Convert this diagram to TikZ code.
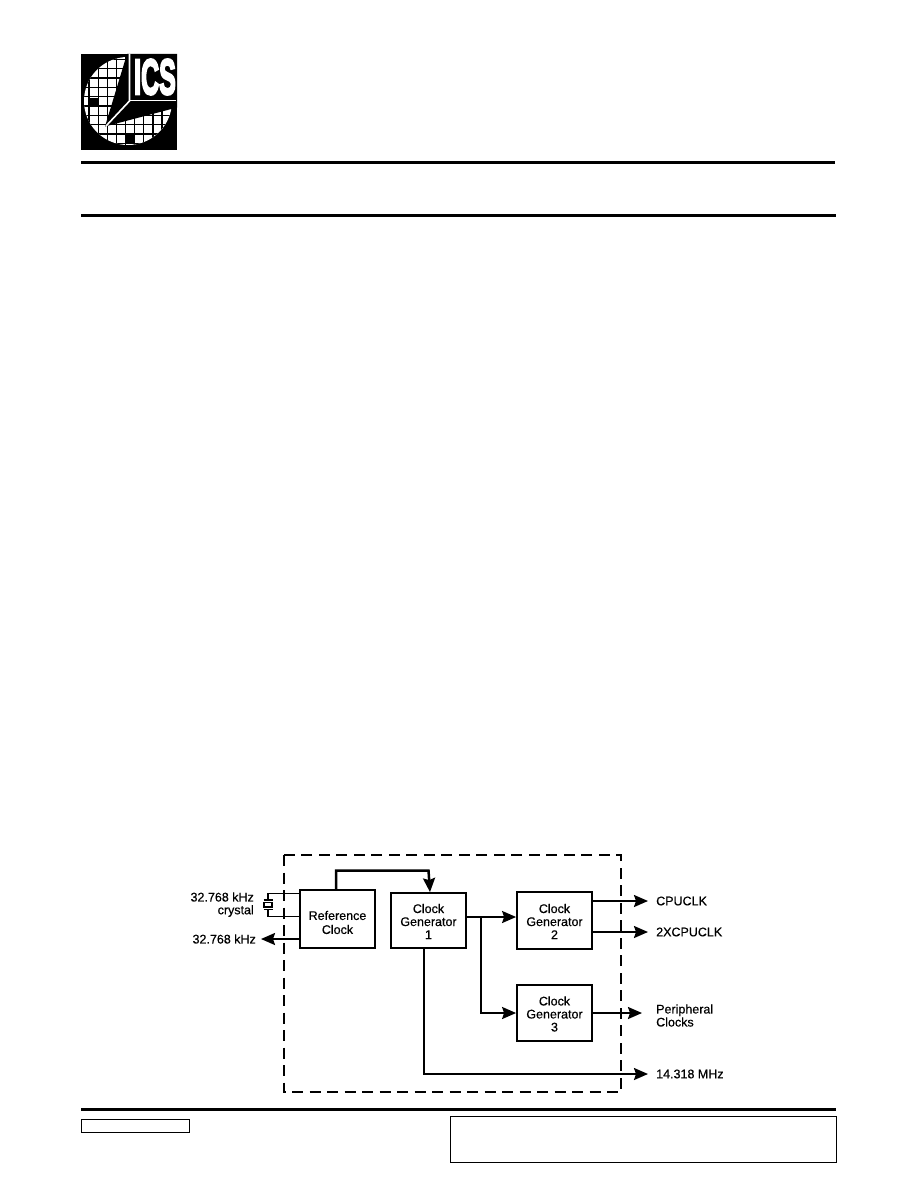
\documentclass[tikz,border=0pt]{standalone}
\usepackage{fontspec}
\setmainfont[RawFeature={embolden=0.5}]{Liberation Sans}
\newfontfamily\logofont[RawFeature={embolden=5}]{Liberation Sans Bold}
\usetikzlibrary{calc,arrows.meta,positioning}

\tikzset{
	clockbox/.style={draw, line width=1.8pt, minimum width=75pt, align=center, inner sep=0pt, font=\fontsize{12.5}{13}\selectfont},
	sig/.style={line width=2pt, -{Stealth[length=14pt,width=12pt,inset=2pt]}},
	wire/.style={line width=1.6pt},
	pinlabel/.style={inner sep=0pt, align=left, font=\fontsize{12.5}{13}\selectfont},
}

\begin{document}
\begin{tikzpicture}[x=1pt,y=-1pt]
	\useasboundingbox (0,0) rectangle (918,1188);
	\fill[white] (0,0) rectangle (918,1188);

	%% Logo: black square, wafer disc with grid
	\fill[black] (81,54) rectangle (177,150);
	\begin{scope}
		\clip (128,101) circle (44);
		\fill[white] (83,55) rectangle (173,147);
		\foreach \gx in {0,...,9}
		{
			\draw[line width=1.4pt] ({\gx*9.1+80},50) -- ({\gx*9.1+80},150);
		}
		\foreach \gy in {0,...,9}
		{
			\draw[line width=1.4pt] (80,{\gy*9.3+59.5}) -- (180,{\gy*9.3+59.5});
		}
		\fill[black] (89,98) rectangle (98,107); % die
		\fill[black] (125,134.5) rectangle (134,143.5); % die
	\end{scope}
	% black sector between the two wedges
	\fill[black] (105,126.5) -- (127,54) -- (177,54) -- (177,107.5) -- cycle;
	\draw[white, line width=1.6pt] (106,126) -- (129.5,101) -- (129.5,54);
	\draw[white, line width=1.6pt] (129.5,100.5) -- (176,100.5);
	\node[white, inner sep=0pt, xscale=0.5, font=\fontsize{50}{50}\logofont] (logotext) at (155,77) {ICS};

	%% Page rules and empty frames
	\draw[line width=3pt] (81,162) -- (835,162);
	\draw[line width=2.5pt] (81,215.5) -- (836,215.5);
	\draw[line width=3pt] (81,1109) -- (836,1109);
	\draw[line width=1pt] (81,1119.5) rectangle (189,1132.5);
	\draw[line width=1pt] (450,1116.5) rectangle (836,1162.5);

	%% Chip outline
	\draw[line width=2pt, dash pattern=on 11pt off 6.5pt] (284,855) rectangle (621,1092);

	%% Blocks
	\node[clockbox, minimum height=58pt] (refclk) at (337.5,919) {\rule{0pt}{16pt}Reference\\[1pt]Clock};
	\node[clockbox, minimum height=55pt] (gen1) at (428.5,920.5) {\rule{0pt}{11pt}Clock\\Generator\\1};
	\node[clockbox, minimum height=57pt] (gen2) at (554.5,920.5) {\rule{0pt}{11pt}Clock\\Generator\\2};
	\node[clockbox, minimum height=56pt] (gen3) at (554.5,1013) {\rule{0pt}{11pt}Clock\\Generator\\3};

	%% Pin labels
	\node[pinlabel, anchor=east] (xtal) at (254,897) {32.768 kHz};
	\node[pinlabel, anchor=east] (xtaltxt) at (254,911) {crystal};
	\node[pinlabel, anchor=east] (khz) at (256,939) {32.768 kHz};
	\node[pinlabel, anchor=west] (cpuclk) at (656,901) {CPUCLK};
	\node[pinlabel, anchor=west] (twoxclk) at (656,932) {2XCPUCLK};
	\node[pinlabel, anchor=west] (perclk) at (656,1015.5) {Peripheral\\Clocks};
	\node[pinlabel, anchor=west] (mhz) at (656,1074) {14.318 MHz};

	%% Crystal symbol
	\coordinate (X1) at (268,893.5);
	\coordinate (X2) at (268,916.5);
	\draw[wire] (refclk.west |- X1) -- (X1) -- (268,900);
	\draw[wire] (refclk.west |- X2) -- (X2) -- (268,909);
	\draw[line width=1.2pt] (264,902.5) rectangle (272,907);
	\draw[wire] (263.5,900) -- (272.5,900);
	\draw[wire] (263.5,909.5) -- (272.5,909.5);

	%% Connectors
	\coordinate (T1) at (336,870.5);
	\draw[sig, line width=2.5pt] (T1 |- refclk.north) -- (T1) -- (T1 -| gen1.north) -- ([xshift=1.5pt]gen1.north);
	\draw[sig] (refclk.west |- khz.east) -- ([xshift=5pt]khz.east);
	\coordinate (B1) at (481,917);
	\coordinate (B2) at (490,917);
	\draw[sig] (gen1.east |- B1) -- (gen2.west |- B1);
	\draw[line width=2.5pt] (gen1.east |- B1) -- (B2);
	\draw[sig] (B1) -- (B1 |- gen3.west) -- (gen3.west);
	\draw[sig] (gen2.east |- cpuclk.west) -- ([xshift=-8pt]cpuclk.west);
	\draw[sig] (gen2.east |- twoxclk.west) -- ([xshift=-8pt]twoxclk.west);
	\draw[sig] (gen3.east) -- (642,1013);
	\coordinate (D1) at (423.5,1074);
	\draw[sig] (D1 |- gen1.south) -- (D1) -- ([xshift=-8pt]mhz.west);
\end{tikzpicture}
\end{document}
